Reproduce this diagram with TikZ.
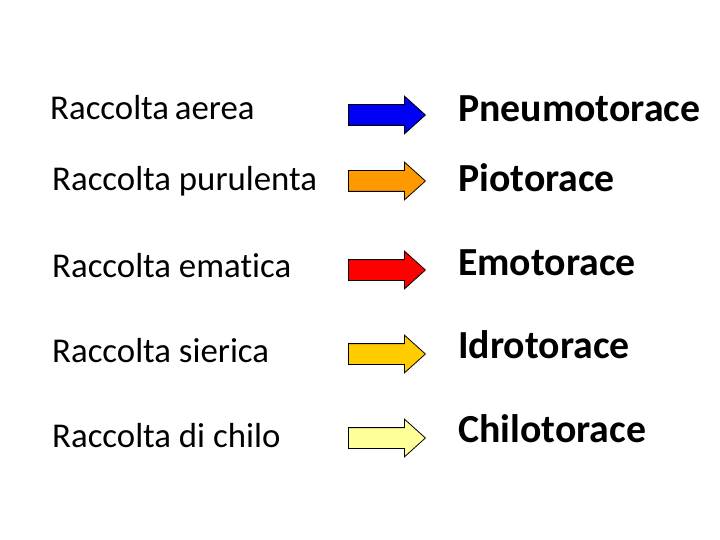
\documentclass[tikz,border=0pt]{standalone}
\usepackage{fontspec}
\setmainfont{Carlito}[Ligatures=NoCommon]
\usepackage{tikz}
\usetikzlibrary{shapes.arrows}

\definecolor{aereo}{RGB}{0,0,245}
\definecolor{pus}{RGB}{255,153,0}
\definecolor{sangue}{RGB}{255,0,0}
\definecolor{siero}{RGB}{255,204,0}
\definecolor{chilo}{RGB}{255,255,153}

\begin{document}
\begin{tikzpicture}[x=1pt, y=-1pt,
		voce/.style={anchor=base west, inner sep=0, font=\fontsize{34.8}{40}\selectfont},
		esito/.style={anchor=base west, inner sep=0, font=\fontsize{39.8}{44}\selectfont\bfseries},
		freccia/.style={single arrow, draw=black, line width=.8pt, minimum height=77pt,
			inner xsep=0, inner ysep=10pt, single arrow head extend=8.5pt,
			single arrow tip angle=84, anchor=tail, fill=#1}]
		\useasboundingbox (0, 0) rectangle (720, 540);
		\node[voce] (aerea) at (50, 120) {Raccolta\,aerea};
		\node[voce] (purulenta) at (52, 191) {Raccolta purulenta};
		\node[voce] (ematica) at (52, 277) {Raccolta ematica};
		\node[voce] (sierica) at (52, 362) {Raccolta sierica};
		\node[voce] (dichilo) at (52, 447) {Raccolta di chilo};
		\node[freccia=aereo] (f1) at (348, 115) {};
		\node[freccia=pus] (f2) at (348, 181) {};
		\node[freccia=sangue] (f3) at (348, 270) {};
		\node[freccia=siero] (f4) at (348, 354) {};
		\node[freccia=chilo] (f5) at (348, 438) {};
		\node[esito] (pneumo) at (458, 122) {Pneumotorace};
		\node[esito] (pio) at (458, 192) {Piotorace};
		\node[esito] (emo) at (458, 275) {Emotorace};
		\node[esito] (idro) at (458, 358) {Idrotorace};
		\node[esito] (chilot) at (458, 442) {Chilotorace};
	\end{tikzpicture}
\end{document}
